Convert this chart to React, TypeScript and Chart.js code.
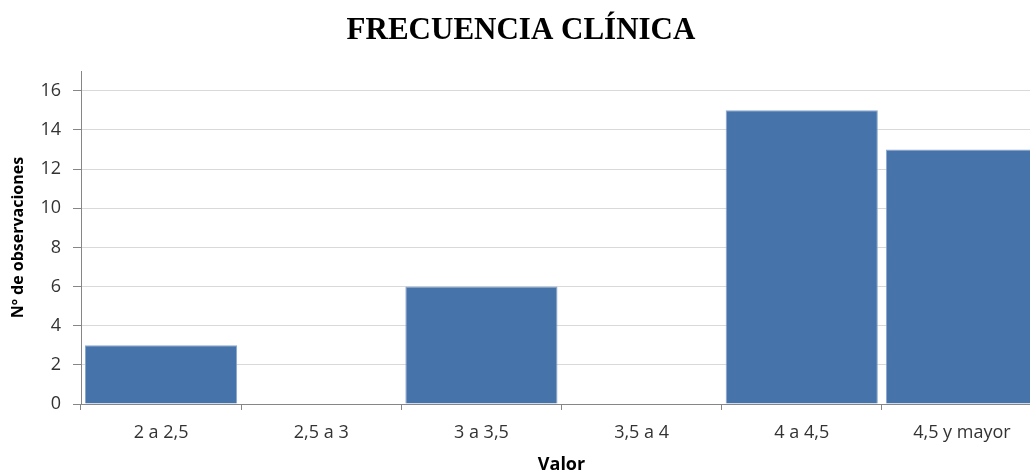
import React, { useEffect, useRef } from "react";
import { Chart, registerables } from "chart.js";

Chart.register(...registerables);

const categories = ["2 a 2,5", "2,5 a 3", "3 a 3,5", "3,5 a 4", "4 a 4,5", "4,5 y mayor"];
const observations = [3, 0, 6, 0, 15, 13];
const chartTitle = "FRECUENCIA CLÍNICA";
const xTitle = "Valor";
const yTitle = "Nº de observaciones";

const AXIS_GRAY = "#868686";
const GRID_GRAY = "#d9d9d9";
const TEXT_GRAY = "#333333";

export default function App() {
  const canvasRef = useRef<HTMLCanvasElement | null>(null);

  useEffect(() => {
    const canvas = canvasRef.current;
    if (!canvas) return;
    const chart = new Chart(canvas, {
      type: "bar",
      data: {
        labels: categories,
        datasets: [
          {
            data: observations,
            backgroundColor: "#4673a9",
            borderColor: "#8aa6cd",
            borderWidth: 1,
            barPercentage: 0.95,
            categoryPercentage: 1,
          },
        ],
      },
      options: {
        responsive: false,
        animation: false,
        layout: { padding: 0 },
        plugins: {
          legend: { display: false },
          tooltip: { enabled: false },
          title: {
            display: true,
            text: chartTitle,
            color: "#000000",
            font: { family: "'Liberation Serif', 'Times New Roman', serif", size: 31, weight: "bold" },
            padding: { top: 12, bottom: 22 },
          },
        },
        scales: {
          x: {
            afterFit: (s: any) => {
              s.height = 72;
            },
            grid: {
              offset: true,
              drawOnChartArea: false,
              drawTicks: true,
              tickLength: 6,
              color: AXIS_GRAY,
            },
            border: { color: AXIS_GRAY, width: 1 },
            ticks: {
              color: TEXT_GRAY,
              font: { family: "'Open Sans', sans-serif", size: 18 },
              padding: 12,
              maxRotation: 0,
              autoSkip: false,
            },
            title: {
              display: true,
              text: xTitle,
              color: "#000000",
              font: { family: "'Open Sans', sans-serif", size: 18, weight: "bold" },
              padding: { top: 0, bottom: 0 },
            },
          },
          y: {
            min: 0,
            max: 17,
            afterFit: (s: any) => {
              s.width = 81;
            },
            grid: {
              color: (ctx: any) => (ctx.tick && ctx.tick.value === 0 ? AXIS_GRAY : GRID_GRAY),
              tickColor: AXIS_GRAY,
              tickLength: 8,
            },
            border: { color: AXIS_GRAY, width: 1 },
            ticks: {
              stepSize: 2,
              includeBounds: false,
              color: TEXT_GRAY,
              font: { family: "'Open Sans', sans-serif", size: 18 },
              padding: 12,
            },
            title: {
              display: true,
              text: yTitle,
              color: "#000000",
              font: { family: "'Open Sans', sans-serif", size: 16, weight: "bold" },
              padding: { top: 9, bottom: 0 },
            },
          },
        },
      },
    });
    return () => chart.destroy();
  }, []);

  return (
    <div
      style={{
        position: "fixed",
        left: 0,
        top: 0,
        width: 1030,
        height: 476,
        overflow: "hidden",
        background: "#ffffff",
      }}
    >
      <canvas ref={canvasRef} width={1042} height={476} style={{ display: "block", width: 1042, height: 476 }} />
    </div>
  );
}
